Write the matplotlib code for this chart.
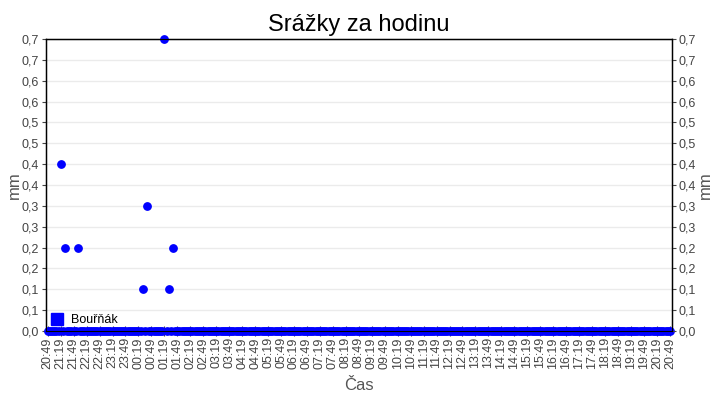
#!/usr/bin/env python3

from datetime import datetime, timedelta

import matplotlib
matplotlib.use('Agg')
import matplotlib.pyplot as plt


# Precipitation per hour, one reading every 5 minutes, starting 20:49
# (one row = one hour)
srazky = [
    0, 0, 0, 0, 0, 0, 0.4, 0, 0.2, 0, 0, 0,
    0, 0, 0.2, 0, 0, 0, 0, 0, 0, 0, 0, 0,
    0, 0, 0, 0, 0, 0, 0, 0, 0, 0, 0, 0,
    0, 0, 0, 0, 0, 0, 0, 0, 0.1, 0, 0.3, 0,
    0, 0, 0, 0, 0, 0, 0.7, 0, 0.1, 0, 0.2, 0,
    0, 0, 0, 0, 0, 0, 0, 0, 0, 0, 0, 0,
    0, 0, 0, 0, 0, 0, 0, 0, 0, 0, 0, 0,
    0, 0, 0, 0, 0, 0, 0, 0, 0, 0, 0, 0,
    0, 0, 0, 0, 0, 0, 0, 0, 0, 0, 0, 0,
    0, 0, 0, 0, 0, 0, 0, 0, 0, 0, 0, 0,
    0, 0, 0, 0, 0, 0, 0, 0, 0, 0, 0, 0,
    0, 0, 0, 0, 0, 0, 0, 0, 0, 0, 0, 0,
    0, 0, 0, 0, 0, 0, 0, 0, 0, 0, 0, 0,
    0, 0, 0, 0, 0, 0, 0, 0, 0, 0, 0, 0,
    0, 0, 0, 0, 0, 0, 0, 0, 0, 0, 0, 0,
    0, 0, 0, 0, 0, 0, 0, 0, 0, 0, 0, 0,
    0, 0, 0, 0, 0, 0, 0, 0, 0, 0, 0, 0,
    0, 0, 0, 0, 0, 0, 0, 0, 0, 0, 0, 0,
    0, 0, 0, 0, 0, 0, 0, 0, 0, 0, 0, 0,
    0, 0, 0, 0, 0, 0, 0, 0, 0, 0, 0, 0,
    0, 0, 0, 0, 0, 0, 0, 0, 0, 0, 0, 0,
    0, 0, 0, 0, 0, 0, 0, 0, 0, 0, 0, 0,
    0, 0, 0, 0, 0, 0, 0, 0, 0, 0, 0, 0,
    0, 0, 0, 0, 0, 0, 0, 0, 0, 0, 0, 0,
    0,
]
START = datetime(2024, 1, 1, 20, 49)
STEP_MIN = 5
TICK_MIN = 30

y_ticks = [0, 0.05, 0.1, 0.15, 0.2, 0.25, 0.3, 0.35, 0.4, 0.45, 0.5, 0.55, 0.6, 0.65, 0.7]
y_labels = ['0,0', '0,1', '0,1', '0,2', '0,2', '0,3', '0,3', '0,4', '0,4',
            '0,5', '0,5', '0,6', '0,6', '0,7', '0,7']

if __name__ == '__main__':
    plt.rcParams['font.family'] = ['Liberation Sans', 'DejaVu Sans']

    minutes = [i * STEP_MIN for i in range(len(srazky))]
    x_ticks = list(range(0, minutes[-1] + 1, TICK_MIN))
    x_labels = [(START + timedelta(minutes=m)).strftime('%H:%M') for m in x_ticks]

    fig = plt.figure(figsize=(7.2, 4.0), dpi=100)
    ax = fig.add_axes([46 / 720, 1 - 331 / 400, 626 / 720, 292 / 400])

    ax.plot(minutes, srazky, linestyle='none', marker='o', markersize=5.3,
            color='#0000ff', clip_on=False, zorder=3, label='Bouřňák')

    ax.set_xlim(-4, minutes[-1] + 5)
    ax.set_ylim(0, 0.7)
    ax.set_yticks(y_ticks)
    ax.set_yticklabels(y_labels)
    ax.set_xticks(x_ticks)
    ax.set_xticklabels(x_labels, rotation=90)

    ax.grid(axis='y', color='#ebebeb', linewidth=1)
    ax.set_axisbelow(True)
    for s in ax.spines.values():
        s.set_color('black')
        s.set_linewidth(1)

    ax.tick_params(axis='y', labelsize=9, colors='#444444', length=3, width=0.8, pad=2)
    ax.tick_params(axis='x', labelsize=9, colors='#444444', direction='inout',
                   length=7, width=0.8, pad=1)

    # same scale on the right side
    ax2 = ax.twinx()
    ax2.set_ylim(ax.get_ylim())
    ax2.set_yticks(y_ticks)
    ax2.set_yticklabels(y_labels)
    ax2.tick_params(axis='y', labelsize=9, colors='#444444', length=3, width=0.8, pad=2)
    ax2.set_ylabel('mm', fontsize=12, color='#555555', labelpad=1)

    ax.set_ylabel('mm', fontsize=12, color='#555555', labelpad=0)
    ax.set_xlabel('Čas', fontsize=12, color='#555555', labelpad=7)
    ax.set_title('Srážky za hodinu', fontsize=17, pad=6)

    leg = ax.legend(loc='lower left', frameon=False, fontsize=9, handlelength=0.9,
                    handletextpad=0.7, borderaxespad=0.1, borderpad=0.3,
                    bbox_to_anchor=(0.0, 0.0))
    leg.legend_handles[0].set_marker('s')
    leg.legend_handles[0].set_markersize(8)

    fig.savefig('out.png', dpi=100)
